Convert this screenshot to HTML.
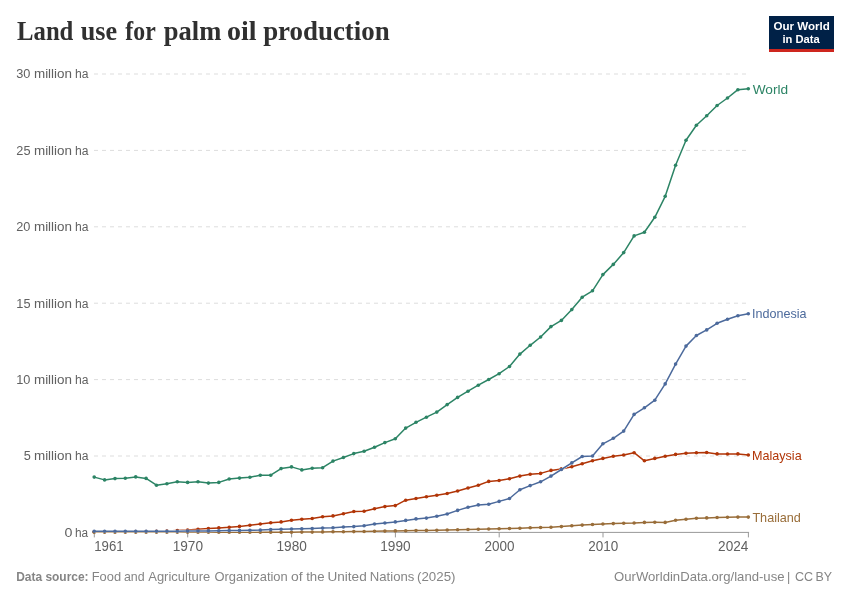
<!DOCTYPE html>
<html lang="en"><head><meta charset="utf-8"><title>Land use for palm oil production</title>
<style>
html,body{margin:0;padding:0;background:#fff;}
body{width:850px;height:600px;overflow:hidden;}
svg{display:block;}
text{font-family:"Liberation Sans",sans-serif;}
text.tt{font-family:"Liberation Serif",serif;}
</style></head><body>
<svg width="850" height="600" viewBox="0 0 850 600">
<rect width="850" height="600" fill="#fff"/>
<text class="tt" y="40.0" font-size="28" font-weight="bold" fill="#303030"><tspan x="17.06" textLength="56.32" lengthAdjust="spacingAndGlyphs">Land</tspan> <tspan x="80.69" textLength="36.37" lengthAdjust="spacingAndGlyphs">use</tspan> <tspan x="125.35" textLength="29.92" lengthAdjust="spacingAndGlyphs">for</tspan> <tspan x="163.75" textLength="57.52" lengthAdjust="spacingAndGlyphs">palm</tspan> <tspan x="227.10" textLength="29.55" lengthAdjust="spacingAndGlyphs">oil</tspan> <tspan x="263.14" textLength="126.59" lengthAdjust="spacingAndGlyphs">production</tspan></text>
<g>
<rect x="769" y="16" width="65" height="36" fill="#002147"/>
<rect x="769" y="49" width="65" height="3" fill="#ce261e"/>
<text y="30.2" font-size="10.8" font-weight="bold" fill="#fff"><tspan x="773.45" textLength="56.37" lengthAdjust="spacingAndGlyphs">Our World</tspan></text>
<text y="42.5" font-size="10.8" font-weight="bold" fill="#fff"><tspan x="782.42" textLength="37.32" lengthAdjust="spacingAndGlyphs">in Data</tspan></text>
</g>
<text transform="translate(0 536.8) scale(1 1.04)" y="0" font-size="13" fill="#616161"><tspan x="64.60" textLength="7.92" lengthAdjust="spacingAndGlyphs">0</tspan> <tspan x="74.97" textLength="13.18" lengthAdjust="spacingAndGlyphs">ha</tspan></text>
<line x1="94" x2="748.5" y1="456.0" y2="456.0" stroke="#ddd" stroke-width="1" stroke-dasharray="4 4"/>
<text transform="translate(0 460.4) scale(1 1.04)" y="0" font-size="13" fill="#616161"><tspan x="23.74" textLength="7.08" lengthAdjust="spacingAndGlyphs">5</tspan> <tspan x="33.98" textLength="38.03" lengthAdjust="spacingAndGlyphs">million</tspan> <tspan x="74.95" textLength="13.50" lengthAdjust="spacingAndGlyphs">ha</tspan></text>
<line x1="94" x2="748.5" y1="379.6" y2="379.6" stroke="#ddd" stroke-width="1" stroke-dasharray="4 4"/>
<text transform="translate(0 384.0) scale(1 1.04)" y="0" font-size="13" fill="#616161"><tspan x="16.27" textLength="14.17" lengthAdjust="spacingAndGlyphs">10</tspan> <tspan x="33.98" textLength="38.03" lengthAdjust="spacingAndGlyphs">million</tspan> <tspan x="74.95" textLength="13.50" lengthAdjust="spacingAndGlyphs">ha</tspan></text>
<line x1="94" x2="748.5" y1="303.2" y2="303.2" stroke="#ddd" stroke-width="1" stroke-dasharray="4 4"/>
<text transform="translate(0 307.6) scale(1 1.04)" y="0" font-size="13" fill="#616161"><tspan x="16.35" textLength="14.17" lengthAdjust="spacingAndGlyphs">15</tspan> <tspan x="33.98" textLength="38.03" lengthAdjust="spacingAndGlyphs">million</tspan> <tspan x="74.95" textLength="13.50" lengthAdjust="spacingAndGlyphs">ha</tspan></text>
<line x1="94" x2="748.5" y1="226.8" y2="226.8" stroke="#ddd" stroke-width="1" stroke-dasharray="4 4"/>
<text transform="translate(0 231.2) scale(1 1.04)" y="0" font-size="13" fill="#616161"><tspan x="16.27" textLength="14.17" lengthAdjust="spacingAndGlyphs">20</tspan> <tspan x="33.98" textLength="38.03" lengthAdjust="spacingAndGlyphs">million</tspan> <tspan x="74.95" textLength="13.50" lengthAdjust="spacingAndGlyphs">ha</tspan></text>
<line x1="94" x2="748.5" y1="150.4" y2="150.4" stroke="#ddd" stroke-width="1" stroke-dasharray="4 4"/>
<text transform="translate(0 154.8) scale(1 1.04)" y="0" font-size="13" fill="#616161"><tspan x="16.35" textLength="14.17" lengthAdjust="spacingAndGlyphs">25</tspan> <tspan x="33.98" textLength="38.03" lengthAdjust="spacingAndGlyphs">million</tspan> <tspan x="74.95" textLength="13.50" lengthAdjust="spacingAndGlyphs">ha</tspan></text>
<line x1="94" x2="748.5" y1="74.0" y2="74.0" stroke="#ddd" stroke-width="1" stroke-dasharray="4 4"/>
<text transform="translate(0 78.4) scale(1 1.04)" y="0" font-size="13" fill="#616161"><tspan x="16.17" textLength="14.17" lengthAdjust="spacingAndGlyphs">30</tspan> <tspan x="33.98" textLength="38.03" lengthAdjust="spacingAndGlyphs">million</tspan> <tspan x="74.95" textLength="13.50" lengthAdjust="spacingAndGlyphs">ha</tspan></text>
<line x1="93.8" x2="749.1" y1="532.4" y2="532.4" stroke="#999" stroke-width="1"/>
<line x1="94.3" x2="94.3" y1="532.4" y2="537.4" stroke="#999" stroke-width="1"/>
<text transform="translate(0 550.6) scale(1 1.07)" y="0" font-size="13" fill="#616161"><tspan x="94.18" textLength="29.41" lengthAdjust="spacingAndGlyphs">1961</tspan></text>
<line x1="187.7" x2="187.7" y1="532.4" y2="537.4" stroke="#999" stroke-width="1"/>
<text transform="translate(0 550.6) scale(1 1.07)" y="0" font-size="13" fill="#616161"><tspan x="172.64" textLength="30.36" lengthAdjust="spacingAndGlyphs">1970</tspan></text>
<line x1="291.6" x2="291.6" y1="532.4" y2="537.4" stroke="#999" stroke-width="1"/>
<text transform="translate(0 550.6) scale(1 1.07)" y="0" font-size="13" fill="#616161"><tspan x="276.46" textLength="30.36" lengthAdjust="spacingAndGlyphs">1980</tspan></text>
<line x1="395.4" x2="395.4" y1="532.4" y2="537.4" stroke="#999" stroke-width="1"/>
<text transform="translate(0 550.6) scale(1 1.07)" y="0" font-size="13" fill="#616161"><tspan x="380.28" textLength="30.36" lengthAdjust="spacingAndGlyphs">1990</tspan></text>
<line x1="499.2" x2="499.2" y1="532.4" y2="537.4" stroke="#999" stroke-width="1"/>
<text transform="translate(0 550.6) scale(1 1.07)" y="0" font-size="13" fill="#616161"><tspan x="484.45" textLength="30.01" lengthAdjust="spacingAndGlyphs">2000</tspan></text>
<line x1="603.0" x2="603.0" y1="532.4" y2="537.4" stroke="#999" stroke-width="1"/>
<text transform="translate(0 550.6) scale(1 1.07)" y="0" font-size="13" fill="#616161"><tspan x="588.27" textLength="30.01" lengthAdjust="spacingAndGlyphs">2010</tspan></text>
<line x1="748.4" x2="748.4" y1="532.4" y2="537.4" stroke="#999" stroke-width="1"/>
<text transform="translate(0 550.6) scale(1 1.07)" y="0" font-size="13" fill="#616161"><tspan x="718.09" textLength="30.26" lengthAdjust="spacingAndGlyphs">2024</tspan></text>
<g fill="#B13507">
<polyline points="94.2,531.8 104.6,531.8 115.0,531.7 125.3,531.7 135.7,531.6 146.1,531.5 156.5,531.3 166.9,531.0 177.3,530.6 187.6,530.1 198.0,529.3 208.4,528.5 218.8,527.9 229.2,527.3 239.5,526.4 249.9,525.3 260.3,524.0 270.7,522.8 281.1,521.9 291.5,520.2 301.8,519.2 312.2,518.5 322.6,516.8 333.0,515.9 343.4,513.8 353.8,511.5 364.1,511.3 374.5,508.7 384.9,506.6 395.3,505.6 405.7,500.2 416.0,498.5 426.4,496.8 436.8,495.3 447.2,493.5 457.6,491.0 468.0,488.0 478.3,485.2 488.7,481.4 499.1,480.5 509.5,478.8 519.9,476.1 530.2,474.3 540.6,473.4 551.0,470.4 561.4,468.9 571.8,466.7 582.2,463.8 592.5,460.8 602.9,458.4 613.3,456.3 623.7,455.0 634.1,452.7 644.4,460.8 654.8,458.4 665.2,456.3 675.6,454.4 686.0,453.3 696.4,452.8 706.7,452.5 717.1,453.9 727.5,454.0 737.9,453.9 748.3,455.0" fill="none" stroke="#fff" stroke-width="2.5" stroke-linejoin="round"/>
<polyline points="94.2,531.8 104.6,531.8 115.0,531.7 125.3,531.7 135.7,531.6 146.1,531.5 156.5,531.3 166.9,531.0 177.3,530.6 187.6,530.1 198.0,529.3 208.4,528.5 218.8,527.9 229.2,527.3 239.5,526.4 249.9,525.3 260.3,524.0 270.7,522.8 281.1,521.9 291.5,520.2 301.8,519.2 312.2,518.5 322.6,516.8 333.0,515.9 343.4,513.8 353.8,511.5 364.1,511.3 374.5,508.7 384.9,506.6 395.3,505.6 405.7,500.2 416.0,498.5 426.4,496.8 436.8,495.3 447.2,493.5 457.6,491.0 468.0,488.0 478.3,485.2 488.7,481.4 499.1,480.5 509.5,478.8 519.9,476.1 530.2,474.3 540.6,473.4 551.0,470.4 561.4,468.9 571.8,466.7 582.2,463.8 592.5,460.8 602.9,458.4 613.3,456.3 623.7,455.0 634.1,452.7 644.4,460.8 654.8,458.4 665.2,456.3 675.6,454.4 686.0,453.3 696.4,452.8 706.7,452.5 717.1,453.9 727.5,454.0 737.9,453.9 748.3,455.0" fill="none" stroke="#B13507" stroke-width="1.5" stroke-linejoin="round"/>
<circle cx="94.2" cy="531.8" r="1.8"/><circle cx="104.6" cy="531.8" r="1.8"/><circle cx="115.0" cy="531.7" r="1.8"/><circle cx="125.3" cy="531.7" r="1.8"/><circle cx="135.7" cy="531.6" r="1.8"/><circle cx="146.1" cy="531.5" r="1.8"/><circle cx="156.5" cy="531.3" r="1.8"/><circle cx="166.9" cy="531.0" r="1.8"/><circle cx="177.3" cy="530.6" r="1.8"/><circle cx="187.6" cy="530.1" r="1.8"/><circle cx="198.0" cy="529.3" r="1.8"/><circle cx="208.4" cy="528.5" r="1.8"/><circle cx="218.8" cy="527.9" r="1.8"/><circle cx="229.2" cy="527.3" r="1.8"/><circle cx="239.5" cy="526.4" r="1.8"/><circle cx="249.9" cy="525.3" r="1.8"/><circle cx="260.3" cy="524.0" r="1.8"/><circle cx="270.7" cy="522.8" r="1.8"/><circle cx="281.1" cy="521.9" r="1.8"/><circle cx="291.5" cy="520.2" r="1.8"/><circle cx="301.8" cy="519.2" r="1.8"/><circle cx="312.2" cy="518.5" r="1.8"/><circle cx="322.6" cy="516.8" r="1.8"/><circle cx="333.0" cy="515.9" r="1.8"/><circle cx="343.4" cy="513.8" r="1.8"/><circle cx="353.8" cy="511.5" r="1.8"/><circle cx="364.1" cy="511.3" r="1.8"/><circle cx="374.5" cy="508.7" r="1.8"/><circle cx="384.9" cy="506.6" r="1.8"/><circle cx="395.3" cy="505.6" r="1.8"/><circle cx="405.7" cy="500.2" r="1.8"/><circle cx="416.0" cy="498.5" r="1.8"/><circle cx="426.4" cy="496.8" r="1.8"/><circle cx="436.8" cy="495.3" r="1.8"/><circle cx="447.2" cy="493.5" r="1.8"/><circle cx="457.6" cy="491.0" r="1.8"/><circle cx="468.0" cy="488.0" r="1.8"/><circle cx="478.3" cy="485.2" r="1.8"/><circle cx="488.7" cy="481.4" r="1.8"/><circle cx="499.1" cy="480.5" r="1.8"/><circle cx="509.5" cy="478.8" r="1.8"/><circle cx="519.9" cy="476.1" r="1.8"/><circle cx="530.2" cy="474.3" r="1.8"/><circle cx="540.6" cy="473.4" r="1.8"/><circle cx="551.0" cy="470.4" r="1.8"/><circle cx="561.4" cy="468.9" r="1.8"/><circle cx="571.8" cy="466.7" r="1.8"/><circle cx="582.2" cy="463.8" r="1.8"/><circle cx="592.5" cy="460.8" r="1.8"/><circle cx="602.9" cy="458.4" r="1.8"/><circle cx="613.3" cy="456.3" r="1.8"/><circle cx="623.7" cy="455.0" r="1.8"/><circle cx="634.1" cy="452.7" r="1.8"/><circle cx="644.4" cy="460.8" r="1.8"/><circle cx="654.8" cy="458.4" r="1.8"/><circle cx="665.2" cy="456.3" r="1.8"/><circle cx="675.6" cy="454.4" r="1.8"/><circle cx="686.0" cy="453.3" r="1.8"/><circle cx="696.4" cy="452.8" r="1.8"/><circle cx="706.7" cy="452.5" r="1.8"/><circle cx="717.1" cy="453.9" r="1.8"/><circle cx="727.5" cy="454.0" r="1.8"/><circle cx="737.9" cy="453.9" r="1.8"/><circle cx="748.3" cy="455.0" r="1.8"/>
<text y="460.0" font-size="13" fill="#B13507"><tspan x="751.95" textLength="49.71" lengthAdjust="spacingAndGlyphs">Malaysia</tspan></text>
</g>
<g fill="#996D39">
<polyline points="94.2,532.3 104.6,532.3 115.0,532.3 125.3,532.3 135.7,532.3 146.1,532.3 156.5,532.3 166.9,532.3 177.3,532.3 187.6,532.3 198.0,532.3 208.4,532.3 218.8,532.3 229.2,532.3 239.5,532.3 249.9,532.3 260.3,532.2 270.7,532.2 281.1,532.2 291.5,532.2 301.8,532.1 312.2,532.1 322.6,531.9 333.0,531.8 343.4,531.7 353.8,531.6 364.1,531.5 374.5,531.3 384.9,531.1 395.3,530.9 405.7,530.7 416.0,530.5 426.4,530.4 436.8,530.2 447.2,530.0 457.6,529.8 468.0,529.5 478.3,529.3 488.7,529.0 499.1,528.8 509.5,528.5 519.9,528.2 530.2,527.8 540.6,527.5 551.0,527.2 561.4,526.6 571.8,525.8 582.2,525.1 592.5,524.5 602.9,524.0 613.3,523.6 623.7,523.2 634.1,523.0 644.4,522.4 654.8,522.3 665.2,522.4 675.6,520.2 686.0,519.2 696.4,518.3 706.7,517.9 717.1,517.5 727.5,517.3 737.9,517.1 748.3,517.1" fill="none" stroke="#fff" stroke-width="2.5" stroke-linejoin="round"/>
<polyline points="94.2,532.3 104.6,532.3 115.0,532.3 125.3,532.3 135.7,532.3 146.1,532.3 156.5,532.3 166.9,532.3 177.3,532.3 187.6,532.3 198.0,532.3 208.4,532.3 218.8,532.3 229.2,532.3 239.5,532.3 249.9,532.3 260.3,532.2 270.7,532.2 281.1,532.2 291.5,532.2 301.8,532.1 312.2,532.1 322.6,531.9 333.0,531.8 343.4,531.7 353.8,531.6 364.1,531.5 374.5,531.3 384.9,531.1 395.3,530.9 405.7,530.7 416.0,530.5 426.4,530.4 436.8,530.2 447.2,530.0 457.6,529.8 468.0,529.5 478.3,529.3 488.7,529.0 499.1,528.8 509.5,528.5 519.9,528.2 530.2,527.8 540.6,527.5 551.0,527.2 561.4,526.6 571.8,525.8 582.2,525.1 592.5,524.5 602.9,524.0 613.3,523.6 623.7,523.2 634.1,523.0 644.4,522.4 654.8,522.3 665.2,522.4 675.6,520.2 686.0,519.2 696.4,518.3 706.7,517.9 717.1,517.5 727.5,517.3 737.9,517.1 748.3,517.1" fill="none" stroke="#996D39" stroke-width="1.5" stroke-linejoin="round"/>
<circle cx="94.2" cy="532.3" r="1.8"/><circle cx="104.6" cy="532.3" r="1.8"/><circle cx="115.0" cy="532.3" r="1.8"/><circle cx="125.3" cy="532.3" r="1.8"/><circle cx="135.7" cy="532.3" r="1.8"/><circle cx="146.1" cy="532.3" r="1.8"/><circle cx="156.5" cy="532.3" r="1.8"/><circle cx="166.9" cy="532.3" r="1.8"/><circle cx="177.3" cy="532.3" r="1.8"/><circle cx="187.6" cy="532.3" r="1.8"/><circle cx="198.0" cy="532.3" r="1.8"/><circle cx="208.4" cy="532.3" r="1.8"/><circle cx="218.8" cy="532.3" r="1.8"/><circle cx="229.2" cy="532.3" r="1.8"/><circle cx="239.5" cy="532.3" r="1.8"/><circle cx="249.9" cy="532.3" r="1.8"/><circle cx="260.3" cy="532.2" r="1.8"/><circle cx="270.7" cy="532.2" r="1.8"/><circle cx="281.1" cy="532.2" r="1.8"/><circle cx="291.5" cy="532.2" r="1.8"/><circle cx="301.8" cy="532.1" r="1.8"/><circle cx="312.2" cy="532.1" r="1.8"/><circle cx="322.6" cy="531.9" r="1.8"/><circle cx="333.0" cy="531.8" r="1.8"/><circle cx="343.4" cy="531.7" r="1.8"/><circle cx="353.8" cy="531.6" r="1.8"/><circle cx="364.1" cy="531.5" r="1.8"/><circle cx="374.5" cy="531.3" r="1.8"/><circle cx="384.9" cy="531.1" r="1.8"/><circle cx="395.3" cy="530.9" r="1.8"/><circle cx="405.7" cy="530.7" r="1.8"/><circle cx="416.0" cy="530.5" r="1.8"/><circle cx="426.4" cy="530.4" r="1.8"/><circle cx="436.8" cy="530.2" r="1.8"/><circle cx="447.2" cy="530.0" r="1.8"/><circle cx="457.6" cy="529.8" r="1.8"/><circle cx="468.0" cy="529.5" r="1.8"/><circle cx="478.3" cy="529.3" r="1.8"/><circle cx="488.7" cy="529.0" r="1.8"/><circle cx="499.1" cy="528.8" r="1.8"/><circle cx="509.5" cy="528.5" r="1.8"/><circle cx="519.9" cy="528.2" r="1.8"/><circle cx="530.2" cy="527.8" r="1.8"/><circle cx="540.6" cy="527.5" r="1.8"/><circle cx="551.0" cy="527.2" r="1.8"/><circle cx="561.4" cy="526.6" r="1.8"/><circle cx="571.8" cy="525.8" r="1.8"/><circle cx="582.2" cy="525.1" r="1.8"/><circle cx="592.5" cy="524.5" r="1.8"/><circle cx="602.9" cy="524.0" r="1.8"/><circle cx="613.3" cy="523.6" r="1.8"/><circle cx="623.7" cy="523.2" r="1.8"/><circle cx="634.1" cy="523.0" r="1.8"/><circle cx="644.4" cy="522.4" r="1.8"/><circle cx="654.8" cy="522.3" r="1.8"/><circle cx="665.2" cy="522.4" r="1.8"/><circle cx="675.6" cy="520.2" r="1.8"/><circle cx="686.0" cy="519.2" r="1.8"/><circle cx="696.4" cy="518.3" r="1.8"/><circle cx="706.7" cy="517.9" r="1.8"/><circle cx="717.1" cy="517.5" r="1.8"/><circle cx="727.5" cy="517.3" r="1.8"/><circle cx="737.9" cy="517.1" r="1.8"/><circle cx="748.3" cy="517.1" r="1.8"/>
<text y="522.0" font-size="13" fill="#996D39"><tspan x="752.40" textLength="48.44" lengthAdjust="spacingAndGlyphs">Thailand</tspan></text>
</g>
<g fill="#4C6A9C">
<polyline points="94.2,531.3 104.6,531.3 115.0,531.3 125.3,531.3 135.7,531.3 146.1,531.3 156.5,531.3 166.9,531.3 177.3,531.2 187.6,531.1 198.0,531.0 208.4,530.9 218.8,530.8 229.2,530.6 239.5,530.4 249.9,530.3 260.3,530.1 270.7,529.6 281.1,529.2 291.5,529.0 301.8,528.7 312.2,528.5 322.6,528.1 333.0,527.7 343.4,527.0 353.8,526.6 364.1,525.8 374.5,524.0 384.9,523.0 395.3,521.9 405.7,520.4 416.0,518.9 426.4,518.1 436.8,516.2 447.2,514.0 457.6,510.4 468.0,507.2 478.3,504.9 488.7,504.2 499.1,501.4 509.5,498.5 519.9,489.7 530.2,485.6 540.6,481.8 551.0,476.1 561.4,469.5 571.8,462.9 582.2,456.5 592.5,456.0 602.9,443.8 613.3,438.3 623.7,431.1 634.1,414.4 644.4,407.8 654.8,400.2 665.2,383.9 675.6,364.1 686.0,346.1 696.4,335.5 706.7,329.9 717.1,323.3 727.5,319.3 737.9,315.7 748.3,313.7" fill="none" stroke="#fff" stroke-width="2.5" stroke-linejoin="round"/>
<polyline points="94.2,531.3 104.6,531.3 115.0,531.3 125.3,531.3 135.7,531.3 146.1,531.3 156.5,531.3 166.9,531.3 177.3,531.2 187.6,531.1 198.0,531.0 208.4,530.9 218.8,530.8 229.2,530.6 239.5,530.4 249.9,530.3 260.3,530.1 270.7,529.6 281.1,529.2 291.5,529.0 301.8,528.7 312.2,528.5 322.6,528.1 333.0,527.7 343.4,527.0 353.8,526.6 364.1,525.8 374.5,524.0 384.9,523.0 395.3,521.9 405.7,520.4 416.0,518.9 426.4,518.1 436.8,516.2 447.2,514.0 457.6,510.4 468.0,507.2 478.3,504.9 488.7,504.2 499.1,501.4 509.5,498.5 519.9,489.7 530.2,485.6 540.6,481.8 551.0,476.1 561.4,469.5 571.8,462.9 582.2,456.5 592.5,456.0 602.9,443.8 613.3,438.3 623.7,431.1 634.1,414.4 644.4,407.8 654.8,400.2 665.2,383.9 675.6,364.1 686.0,346.1 696.4,335.5 706.7,329.9 717.1,323.3 727.5,319.3 737.9,315.7 748.3,313.7" fill="none" stroke="#4C6A9C" stroke-width="1.5" stroke-linejoin="round"/>
<circle cx="94.2" cy="531.3" r="1.8"/><circle cx="104.6" cy="531.3" r="1.8"/><circle cx="115.0" cy="531.3" r="1.8"/><circle cx="125.3" cy="531.3" r="1.8"/><circle cx="135.7" cy="531.3" r="1.8"/><circle cx="146.1" cy="531.3" r="1.8"/><circle cx="156.5" cy="531.3" r="1.8"/><circle cx="166.9" cy="531.3" r="1.8"/><circle cx="177.3" cy="531.2" r="1.8"/><circle cx="187.6" cy="531.1" r="1.8"/><circle cx="198.0" cy="531.0" r="1.8"/><circle cx="208.4" cy="530.9" r="1.8"/><circle cx="218.8" cy="530.8" r="1.8"/><circle cx="229.2" cy="530.6" r="1.8"/><circle cx="239.5" cy="530.4" r="1.8"/><circle cx="249.9" cy="530.3" r="1.8"/><circle cx="260.3" cy="530.1" r="1.8"/><circle cx="270.7" cy="529.6" r="1.8"/><circle cx="281.1" cy="529.2" r="1.8"/><circle cx="291.5" cy="529.0" r="1.8"/><circle cx="301.8" cy="528.7" r="1.8"/><circle cx="312.2" cy="528.5" r="1.8"/><circle cx="322.6" cy="528.1" r="1.8"/><circle cx="333.0" cy="527.7" r="1.8"/><circle cx="343.4" cy="527.0" r="1.8"/><circle cx="353.8" cy="526.6" r="1.8"/><circle cx="364.1" cy="525.8" r="1.8"/><circle cx="374.5" cy="524.0" r="1.8"/><circle cx="384.9" cy="523.0" r="1.8"/><circle cx="395.3" cy="521.9" r="1.8"/><circle cx="405.7" cy="520.4" r="1.8"/><circle cx="416.0" cy="518.9" r="1.8"/><circle cx="426.4" cy="518.1" r="1.8"/><circle cx="436.8" cy="516.2" r="1.8"/><circle cx="447.2" cy="514.0" r="1.8"/><circle cx="457.6" cy="510.4" r="1.8"/><circle cx="468.0" cy="507.2" r="1.8"/><circle cx="478.3" cy="504.9" r="1.8"/><circle cx="488.7" cy="504.2" r="1.8"/><circle cx="499.1" cy="501.4" r="1.8"/><circle cx="509.5" cy="498.5" r="1.8"/><circle cx="519.9" cy="489.7" r="1.8"/><circle cx="530.2" cy="485.6" r="1.8"/><circle cx="540.6" cy="481.8" r="1.8"/><circle cx="551.0" cy="476.1" r="1.8"/><circle cx="561.4" cy="469.5" r="1.8"/><circle cx="571.8" cy="462.9" r="1.8"/><circle cx="582.2" cy="456.5" r="1.8"/><circle cx="592.5" cy="456.0" r="1.8"/><circle cx="602.9" cy="443.8" r="1.8"/><circle cx="613.3" cy="438.3" r="1.8"/><circle cx="623.7" cy="431.1" r="1.8"/><circle cx="634.1" cy="414.4" r="1.8"/><circle cx="644.4" cy="407.8" r="1.8"/><circle cx="654.8" cy="400.2" r="1.8"/><circle cx="665.2" cy="383.9" r="1.8"/><circle cx="675.6" cy="364.1" r="1.8"/><circle cx="686.0" cy="346.1" r="1.8"/><circle cx="696.4" cy="335.5" r="1.8"/><circle cx="706.7" cy="329.9" r="1.8"/><circle cx="717.1" cy="323.3" r="1.8"/><circle cx="727.5" cy="319.3" r="1.8"/><circle cx="737.9" cy="315.7" r="1.8"/><circle cx="748.3" cy="313.7" r="1.8"/>
<text y="318.0" font-size="13" fill="#4C6A9C"><tspan x="752.01" textLength="54.47" lengthAdjust="spacingAndGlyphs">Indonesia</tspan></text>
</g>
<g fill="#2C8465">
<polyline points="94.2,477.1 104.6,479.9 115.0,478.6 125.3,478.2 135.7,476.9 146.1,478.4 156.5,485.2 166.9,483.7 177.3,481.8 187.6,482.4 198.0,481.8 208.4,483.1 218.8,482.4 229.2,479.0 239.5,478.1 249.9,477.3 260.3,475.2 270.7,475.2 281.1,468.6 291.5,466.9 301.8,469.9 312.2,468.2 322.6,467.7 333.0,461.1 343.4,457.5 353.8,453.6 364.1,451.3 374.5,447.2 384.9,442.6 395.3,438.8 405.7,428.1 416.0,422.3 426.4,417.2 436.8,412.1 447.2,404.6 457.6,397.4 468.0,391.2 478.3,385.2 488.7,379.5 499.1,373.7 509.5,366.5 519.9,354.1 530.2,345.3 540.6,337.0 551.0,326.6 561.4,320.4 571.8,309.6 582.2,297.2 592.5,290.8 602.9,274.6 613.3,264.4 623.7,252.6 634.1,235.9 644.4,232.2 654.8,217.3 665.2,196.3 675.6,165.2 686.0,140.3 696.4,125.3 706.7,115.7 717.1,105.5 727.5,98.0 737.9,89.7 748.3,88.8" fill="none" stroke="#fff" stroke-width="2.5" stroke-linejoin="round"/>
<polyline points="94.2,477.1 104.6,479.9 115.0,478.6 125.3,478.2 135.7,476.9 146.1,478.4 156.5,485.2 166.9,483.7 177.3,481.8 187.6,482.4 198.0,481.8 208.4,483.1 218.8,482.4 229.2,479.0 239.5,478.1 249.9,477.3 260.3,475.2 270.7,475.2 281.1,468.6 291.5,466.9 301.8,469.9 312.2,468.2 322.6,467.7 333.0,461.1 343.4,457.5 353.8,453.6 364.1,451.3 374.5,447.2 384.9,442.6 395.3,438.8 405.7,428.1 416.0,422.3 426.4,417.2 436.8,412.1 447.2,404.6 457.6,397.4 468.0,391.2 478.3,385.2 488.7,379.5 499.1,373.7 509.5,366.5 519.9,354.1 530.2,345.3 540.6,337.0 551.0,326.6 561.4,320.4 571.8,309.6 582.2,297.2 592.5,290.8 602.9,274.6 613.3,264.4 623.7,252.6 634.1,235.9 644.4,232.2 654.8,217.3 665.2,196.3 675.6,165.2 686.0,140.3 696.4,125.3 706.7,115.7 717.1,105.5 727.5,98.0 737.9,89.7 748.3,88.8" fill="none" stroke="#2C8465" stroke-width="1.5" stroke-linejoin="round"/>
<circle cx="94.2" cy="477.1" r="1.8"/><circle cx="104.6" cy="479.9" r="1.8"/><circle cx="115.0" cy="478.6" r="1.8"/><circle cx="125.3" cy="478.2" r="1.8"/><circle cx="135.7" cy="476.9" r="1.8"/><circle cx="146.1" cy="478.4" r="1.8"/><circle cx="156.5" cy="485.2" r="1.8"/><circle cx="166.9" cy="483.7" r="1.8"/><circle cx="177.3" cy="481.8" r="1.8"/><circle cx="187.6" cy="482.4" r="1.8"/><circle cx="198.0" cy="481.8" r="1.8"/><circle cx="208.4" cy="483.1" r="1.8"/><circle cx="218.8" cy="482.4" r="1.8"/><circle cx="229.2" cy="479.0" r="1.8"/><circle cx="239.5" cy="478.1" r="1.8"/><circle cx="249.9" cy="477.3" r="1.8"/><circle cx="260.3" cy="475.2" r="1.8"/><circle cx="270.7" cy="475.2" r="1.8"/><circle cx="281.1" cy="468.6" r="1.8"/><circle cx="291.5" cy="466.9" r="1.8"/><circle cx="301.8" cy="469.9" r="1.8"/><circle cx="312.2" cy="468.2" r="1.8"/><circle cx="322.6" cy="467.7" r="1.8"/><circle cx="333.0" cy="461.1" r="1.8"/><circle cx="343.4" cy="457.5" r="1.8"/><circle cx="353.8" cy="453.6" r="1.8"/><circle cx="364.1" cy="451.3" r="1.8"/><circle cx="374.5" cy="447.2" r="1.8"/><circle cx="384.9" cy="442.6" r="1.8"/><circle cx="395.3" cy="438.8" r="1.8"/><circle cx="405.7" cy="428.1" r="1.8"/><circle cx="416.0" cy="422.3" r="1.8"/><circle cx="426.4" cy="417.2" r="1.8"/><circle cx="436.8" cy="412.1" r="1.8"/><circle cx="447.2" cy="404.6" r="1.8"/><circle cx="457.6" cy="397.4" r="1.8"/><circle cx="468.0" cy="391.2" r="1.8"/><circle cx="478.3" cy="385.2" r="1.8"/><circle cx="488.7" cy="379.5" r="1.8"/><circle cx="499.1" cy="373.7" r="1.8"/><circle cx="509.5" cy="366.5" r="1.8"/><circle cx="519.9" cy="354.1" r="1.8"/><circle cx="530.2" cy="345.3" r="1.8"/><circle cx="540.6" cy="337.0" r="1.8"/><circle cx="551.0" cy="326.6" r="1.8"/><circle cx="561.4" cy="320.4" r="1.8"/><circle cx="571.8" cy="309.6" r="1.8"/><circle cx="582.2" cy="297.2" r="1.8"/><circle cx="592.5" cy="290.8" r="1.8"/><circle cx="602.9" cy="274.6" r="1.8"/><circle cx="613.3" cy="264.4" r="1.8"/><circle cx="623.7" cy="252.6" r="1.8"/><circle cx="634.1" cy="235.9" r="1.8"/><circle cx="644.4" cy="232.2" r="1.8"/><circle cx="654.8" cy="217.3" r="1.8"/><circle cx="665.2" cy="196.3" r="1.8"/><circle cx="675.6" cy="165.2" r="1.8"/><circle cx="686.0" cy="140.3" r="1.8"/><circle cx="696.4" cy="125.3" r="1.8"/><circle cx="706.7" cy="115.7" r="1.8"/><circle cx="717.1" cy="105.5" r="1.8"/><circle cx="727.5" cy="98.0" r="1.8"/><circle cx="737.9" cy="89.7" r="1.8"/><circle cx="748.3" cy="88.8" r="1.8"/>
<text y="94.0" font-size="13" fill="#2C8465"><tspan x="752.66" textLength="35.46" lengthAdjust="spacingAndGlyphs">World</tspan></text>
</g>
<text y="581.0" font-size="13" font-weight="bold" fill="#858585"><tspan x="16.20" textLength="72.39" lengthAdjust="spacingAndGlyphs">Data source:</tspan> <tspan font-weight="normal" x="91.73" textLength="29.36" lengthAdjust="spacingAndGlyphs">Food</tspan> <tspan font-weight="normal" x="123.92" textLength="20.70" lengthAdjust="spacingAndGlyphs">and</tspan> <tspan font-weight="normal" x="148.25" textLength="61.99" lengthAdjust="spacingAndGlyphs">Agriculture</tspan> <tspan font-weight="normal" x="214.45" textLength="73.29" lengthAdjust="spacingAndGlyphs">Organization</tspan> <tspan font-weight="normal" x="290.97" textLength="11.61" lengthAdjust="spacingAndGlyphs">of</tspan> <tspan font-weight="normal" x="306.18" textLength="18.35" lengthAdjust="spacingAndGlyphs">the</tspan> <tspan font-weight="normal" x="327.46" textLength="39.27" lengthAdjust="spacingAndGlyphs">United</tspan> <tspan font-weight="normal" x="369.81" textLength="44.53" lengthAdjust="spacingAndGlyphs">Nations</tspan> <tspan font-weight="normal" x="417.02" textLength="38.47" lengthAdjust="spacingAndGlyphs">(2025)</tspan></text>
<text y="581.0" font-size="13" fill="#858585"><tspan x="614.04" textLength="170.49" lengthAdjust="spacingAndGlyphs">OurWorldinData.org/land-use</tspan> <tspan x="786.96" textLength="3.26" lengthAdjust="spacingAndGlyphs">|</tspan> <tspan x="794.93" textLength="18.12" lengthAdjust="spacingAndGlyphs">CC</tspan> <tspan x="815.47" textLength="16.56" lengthAdjust="spacingAndGlyphs">BY</tspan></text>
</svg>
</body></html>
